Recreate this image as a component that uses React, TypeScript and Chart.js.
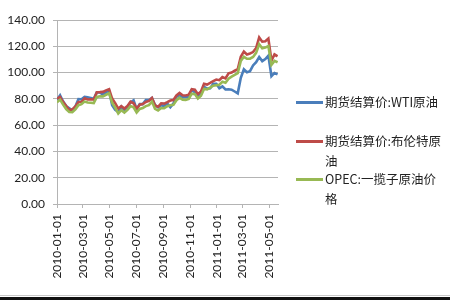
import React, { useEffect, useRef } from "react";
import { Chart, registerables } from "chart.js";

Chart.register(...registerables);

const tickLabels = [
  "2010-01-01", "2010-03-01", "2010-05-01", "2010-07-01", "2010-09-01",
  "2010-11-01", "2011-01-01", "2011-03-01", "2011-05-01",
];
const yTicks = [0, 20, 40, 60, 80, 100, 120, 140];
const seriesNames = ["期货结算价:WTI原油", "期货结算价:布伦特原油", "OPEC:一揽子原油价格"];
const legendLines = [["期货结算价:WTI原油"], ["期货结算价:布伦特原", "油"], ["OPEC:一揽子原油价", "格"]];
const colors = ["#4A7EBB", "#BE4B48", "#98B954"];

// weekly values starting 2010-01-01
const wti = [79.4, 82.7, 78.0, 74.5, 72.9, 71.2, 74.1, 79.8, 79.7, 81.5,
  81.2, 80.7, 80.0, 84.9, 84.9, 83.2, 85.1, 86.2, 75.1, 71.6,
  70.0, 74.0, 71.5, 73.8, 77.2, 78.9, 72.1, 76.1, 76.0, 79.0,
  79.0, 80.7, 75.4, 73.5, 75.2, 74.6, 76.5, 73.7, 76.5, 81.6,
  82.7, 81.3, 81.7, 81.4, 86.9, 84.9, 81.5, 83.8, 89.2, 87.8,
  88.0, 91.5, 91.4, 88.0, 89.5, 87.1, 87.3, 87.0, 85.6, 84.2,
  96.0, 102.4, 100.2, 101.1, 105.4, 107.9, 111.8, 108.7, 110.3, 112.9,
  97.2, 99.7, 98.6];
const brent = [80.1, 81.4, 77.5, 74.5, 71.5, 72.0, 74.2, 77.6, 77.8, 80.5,
  79.5, 79.7, 79.5, 85.0, 85.1, 85.3, 86.5, 87.4, 80.2, 76.7,
  72.6, 74.4, 72.6, 74.5, 77.8, 76.6, 72.5, 75.5, 76.1, 77.6,
  78.4, 80.7, 75.0, 74.0, 76.6, 76.4, 77.5, 78.7, 79.1, 82.6,
  84.5, 82.8, 82.6, 83.2, 87.4, 86.9, 83.6, 85.6, 91.4, 90.9,
  92.1, 93.5, 94.7, 94.2, 96.6, 95.6, 99.4, 100.0, 101.4, 102.5,
  112.1, 116.0, 113.8, 114.5, 115.6, 118.7, 126.7, 123.5, 123.9, 125.9,
  109.1, 113.8, 112.4];
const opec = [77.3, 79.4, 75.6, 72.2, 70.0, 69.8, 72.0, 75.2, 76.0, 77.9,
  77.2, 77.0, 76.8, 81.5, 82.0, 81.9, 83.1, 84.2, 77.1, 73.4,
  68.9, 71.4, 69.6, 71.6, 74.5, 73.6, 69.6, 72.3, 73.0, 74.5,
  75.2, 77.9, 72.4, 71.1, 73.0, 72.9, 74.4, 75.1, 75.4, 79.0,
  80.9, 79.4, 79.2, 80.0, 84.0, 83.6, 80.2, 82.3, 87.5, 87.2,
  88.5, 90.0, 90.4, 90.8, 93.0, 92.3, 95.4, 96.9, 98.2, 99.6,
  108.9, 112.0, 110.5, 110.6, 111.9, 115.0, 121.5, 118.4, 119.0, 120.2,
  105.9, 108.9, 107.8];

const startDate = "2010-01-01";
const endDate = "2011-05-21";

function dayOf(s: string): number {
  const [y, m, d] = s.split("-").map(Number);
  const [y0, m0, d0] = startDate.split("-").map(Number);
  return Math.round((Date.UTC(y, m - 1, d) - Date.UTC(y0, m0 - 1, d0)) / 86400000);
}

export default function App() {
  const ref = useRef<HTMLCanvasElement | null>(null);
  useEffect(() => {
    document.body.style.margin = "0";
    const tickDays = tickLabels.map(dayOf);
    const toPts = (arr: number[]) => arr.map((v, i) => ({ x: i * 7, y: v }));
    const all = [wti, brent, opec];
    const gridColor = "#b4b4b4";
    const font = { family: "Lato, 'Noto Sans', sans-serif", size: 12 };
    const chart = new Chart(ref.current as HTMLCanvasElement, {
      type: "line",
      data: {
        datasets: all.map((arr, k) => ({
          label: seriesNames[k],
          data: toPts(arr),
          borderColor: colors[k],
          backgroundColor: colors[k],
          borderWidth: 2.6,
          pointRadius: 0,
          tension: 0,
          order: 3 - k,
        })),
      },
      options: {
        animation: false,
        responsive: false,
        layout: { padding: { left: 8, top: 20, right: 172, bottom: 0 } },
        plugins: { legend: { display: false }, tooltip: { enabled: false } },
        scales: {
          x: {
            type: "linear",
            min: 0,
            max: dayOf(endDate),
            afterBuildTicks: (scale: any) => {
              scale.ticks = tickDays.map((v) => ({ value: v }));
            },
            afterFit: (scale: any) => {
              scale.height = 96;
            },
            ticks: {
              autoSkip: false,
              maxRotation: 90,
              minRotation: 90,
              padding: 6,
              color: "#222",
              font,
              callback: (value: any) => {
                const i = tickDays.indexOf(Number(value));
                return i >= 0 ? tickLabels[i] : "";
              },
            },
            grid: { display: true, drawOnChartArea: false, drawTicks: true, tickLength: 4, color: gridColor },
            border: { display: true, color: gridColor },
          },
          y: {
            min: 0,
            max: 140,
            afterBuildTicks: (scale: any) => {
              scale.ticks = yTicks.map((v) => ({ value: v }));
            },
            afterFit: (scale: any) => {
              scale.width = 49;
            },
            ticks: {
              padding: 8,
              color: "#222",
              font,
              callback: (value: any) => Number(value).toFixed(2),
            },
            grid: { color: gridColor, tickLength: 4, drawTicks: true },
            border: { display: true, color: gridColor },
          },
        },
      },
    } as any);
    return () => chart.destroy();
  }, []);

  const legendTops = [102, 141, 179];
  return (
    <div style={{ position: "relative", width: 450, height: 300, background: "#fff", overflow: "hidden" }}>
      <canvas ref={ref} width={450} height={300} style={{ display: "block" }} />
      {legendLines.map((lines, k) => (
        <div key={k}>
          <div
            style={{
              position: "absolute",
              left: 296,
              top: legendTops[k] - 1,
              width: 27,
              height: 2.5,
              background: colors[k],
            }}
          />
          {lines.map((t, j) => (
            <div
              key={j}
              style={{
                position: "absolute",
                left: 325,
                top: legendTops[k] - 10 + j * 19.5,
                height: 20,
                lineHeight: "20px",
                fontSize: 12.5,
                fontFamily: "'Noto Sans CJK SC', sans-serif",
                color: "#222",
                whiteSpace: "nowrap",
              }}
            >
              {t}
            </div>
          ))}
        </div>
      ))}
      <div style={{ position: "absolute", left: 0, top: 295, width: 450, height: 1, background: "#c8c8c8" }} />
      <div style={{ position: "absolute", left: 0, top: 297, width: 450, height: 3, background: "#111" }} />
    </div>
  );
}
